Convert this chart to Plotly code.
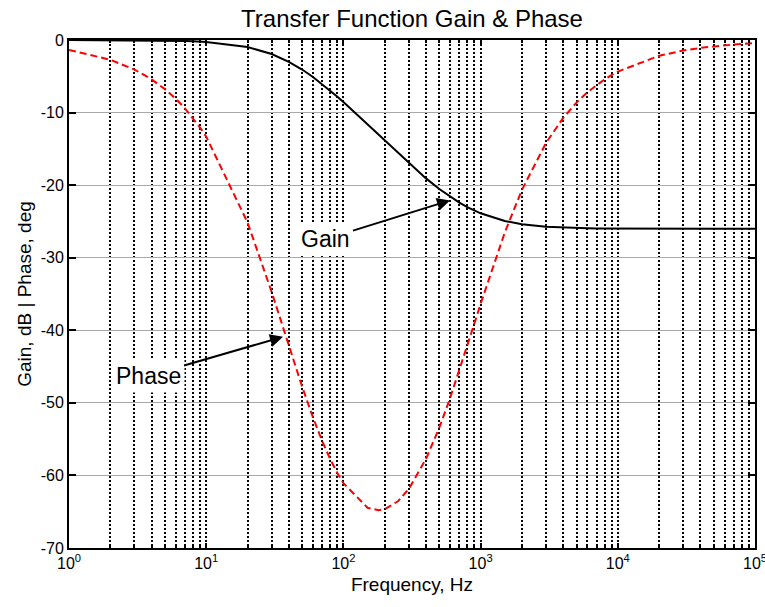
import plotly.graph_objects as go

# ---- data ----
freq_hz = [1, 2, 3, 4, 5, 6, 7, 8, 9,
           10, 20, 30, 40, 50, 60, 70, 80, 90,
           100, 150, 180, 200, 250, 300, 400, 500, 600, 700, 800, 900,
           1000, 1500, 2000, 3000, 4000, 5000, 6000, 7000, 8000, 9000,
           10000, 20000, 30000, 40000, 50000, 60000, 70000, 80000, 90000, 100000]

gain_db = [-0.00, -0.01, -0.02, -0.04, -0.07, -0.10, -0.13, -0.17, -0.21,
           -0.26, -0.97, -1.93, -3.00, -4.07, -5.09, -6.06, -6.95, -7.77,
           -8.54, -11.63, -13.06, -13.89, -15.62, -17.01, -19.07, -20.53, -21.60, -22.41, -23.02, -23.50,
           -23.88, -24.94, -25.38, -25.72, -25.85, -25.91, -25.94, -25.97, -25.98, -25.99,
           -25.99, -26.01, -26.02, -26.02, -26.02, -26.02, -26.02, -26.02, -26.02, -26.02]

phase_deg = [-1.36, -2.72, -4.07, -5.42, -6.77, -8.10, -9.43, -10.74, -12.04,
             -13.32, -25.13, -34.72, -42.14, -47.76, -52.02, -55.25, -57.72, -59.62,
             -61.07, -64.45, -64.79, -64.65, -63.56, -61.85, -57.72, -53.42, -49.32, -45.54, -42.14, -39.09,
             -36.37, -26.54, -20.66, -14.17, -10.74, -8.63, -7.21, -6.19, -5.43, -4.83,
             -4.35, -2.18, -1.45, -1.09, -0.87, -0.73, -0.62, -0.54, -0.48, -0.44]

x_major_vals = [1, 10, 100, 1000, 10000, 100000]
x_major_text = ["10<sup>0</sup>", "10<sup>1</sup>", "10<sup>2</sup>",
                "10<sup>3</sup>", "10<sup>4</sup>", "10<sup>5</sup>"]
x_minor_vals = [k * 10 ** n for n in range(5) for k in range(2, 10)]
y_tick_vals = [0, -10, -20, -30, -40, -50, -60, -70]
y_tick_text = ["0", "-10", "-20", "-30", "-40", "-50", "-60", "-70"]

FONT = "Arial, Liberation Sans, sans-serif"

fig = go.Figure()
fig.add_trace(go.Scatter(x=freq_hz, y=gain_db, mode="lines", name="Gain",
                         line=dict(color="black", width=2)))
fig.add_trace(go.Scatter(x=freq_hz, y=phase_deg, mode="lines", name="Phase",
                         line=dict(color="#ff0000", width=2, dash="7px,4px")))

fig.update_layout(
    width=765, height=607,
    margin=dict(l=69, r=10, t=40, b=59),
    paper_bgcolor="white", plot_bgcolor="white",
    showlegend=False,
    font=dict(family=FONT, size=16, color="black"),
    title=dict(text="Transfer Function Gain & Phase", x=412 / 765, xanchor="center",
               y=1 - 19 / 607, yanchor="middle", yref="container",
               font=dict(family=FONT, size=24, color="black")),
)

fig.update_xaxes(
    type="log", range=[0, 5], automargin=False,
    tickmode="array", tickvals=x_major_vals, ticktext=x_major_text,
    ticks="inside", ticklen=5, tickwidth=1.5, tickcolor="black",
    ticklabeloverflow="allow",
    showline=True, linewidth=2, linecolor="black", mirror="ticks",
    showgrid=True, gridcolor="black", gridwidth=1.7, griddash="2px,2px",
    zeroline=False,
    tickfont=dict(family=FONT, size=16, color="black"),
    title=dict(text="Frequency, Hz", font=dict(family=FONT, size=19, color="black"), standoff=6),
    minor=dict(tickmode="array", tickvals=x_minor_vals, ticks="inside", ticklen=3,
               tickcolor="black", showgrid=True, gridcolor="black", gridwidth=1.7,
               griddash="2px,2px"),
)

fig.update_yaxes(
    range=[-70, 0], automargin=False,
    tickmode="array", tickvals=y_tick_vals, ticktext=y_tick_text,
    ticks="inside", ticklen=7, tickwidth=1.5, tickcolor="black",
    showline=True, linewidth=2, linecolor="black", mirror="ticks",
    showgrid=True, gridcolor="#a8a8a8", gridwidth=1,
    zeroline=False,
    tickfont=dict(family=FONT, size=16, color="black"),
    title=dict(text="Gain, dB | Phase, deg", font=dict(family=FONT, size=19, color="black"), standoff=4),
)

fig.add_annotation(x=2.777, y=-22.1, xref="x", yref="y", text="Gain",
                   showarrow=True, ax=-125, ay=39, arrowhead=2, arrowsize=1.3,
                   arrowwidth=2, arrowcolor="black", bgcolor="white", borderpad=3,
                   font=dict(family=FONT, size=23, color="black"))
fig.add_annotation(x=1.56, y=-40.9, xref="x", yref="y", text="Phase",
                   showarrow=True, ax=-135, ay=39, arrowhead=2, arrowsize=1.3,
                   arrowwidth=2, arrowcolor="black", bgcolor="white", borderpad=3,
                   font=dict(family=FONT, size=23, color="black"))

fig.write_html("out.html")
